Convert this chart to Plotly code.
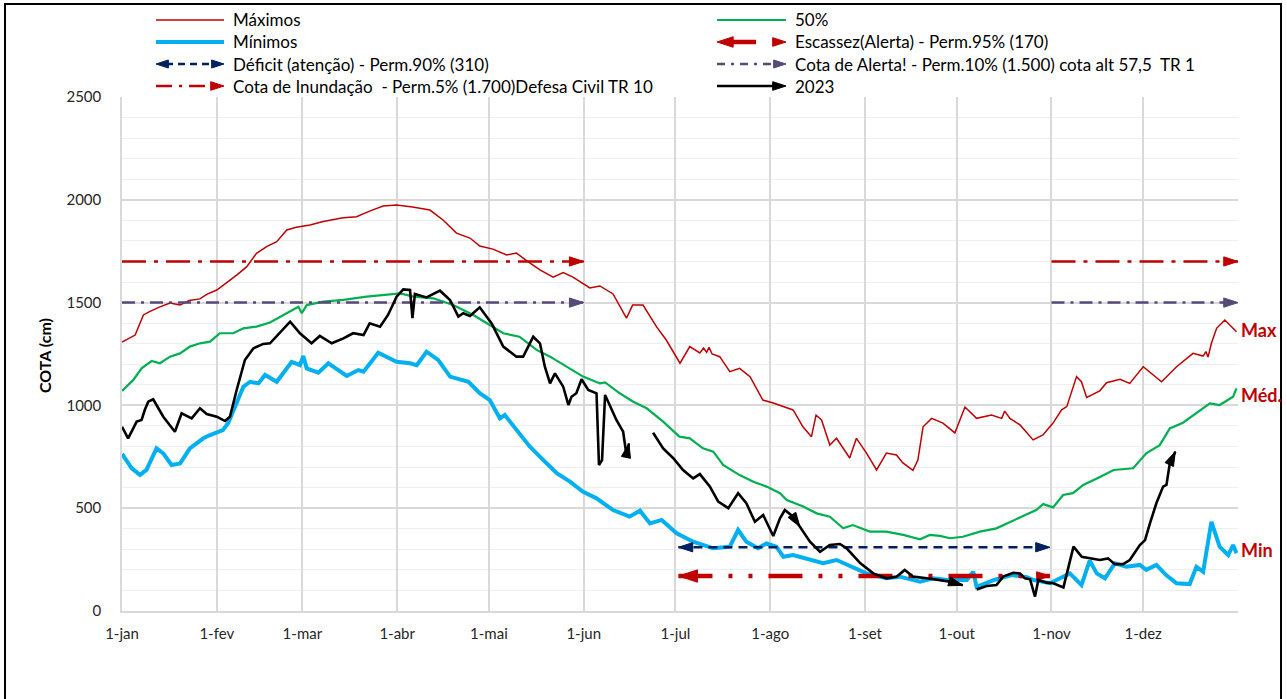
import plotly.graph_objects as go

# ---------------- data ----------------
MONTH_DAYS = [0, 31, 59, 90, 120, 151, 181, 212, 243, 273, 304, 334, 365]
MONTH_LABELS = ["1-jan", "1-fev", "1-mar", "1-abr", "1-mai", "1-jun", "1-jul",
                "1-ago", "1-set", "1-out", "1-nov", "1-dez", ""]

MAX_DAY = [0, 4.3, 7, 9, 12.4, 15.7, 19, 22, 25.5, 27.7, 31, 34, 37.5, 40.8, 44, 47.3, 50.6, 53.9, 57,
           61.5, 65.8, 72.3, 76.7, 81, 85.4, 89.8, 95, 100.7, 105, 109.4, 113.8, 117, 121.3, 125.8, 129,
           132.3, 136.7, 141, 144.3, 147.5, 153, 156.3, 160.6, 165, 167, 170.4, 174.8, 178, 182.5, 185.7,
           189, 190.2, 191.2, 192, 193, 195.5, 198.8, 202, 205.4, 209.6, 213, 219.5, 222.7, 225.5, 227,
           228.8, 231.5, 233.7, 238, 240.2, 243.5, 246.8, 250, 253.3, 255.4, 258.7, 260.3, 262, 264.8,
           268.5, 272.4, 275.7, 279.5, 284.4, 287.7, 288.7, 290.4, 293.7, 298, 301.2, 304.5, 307.3, 309,
           312.2, 313.8, 315.5, 319.8, 322, 326.4, 329.6, 334, 340, 344.9, 350.3, 353.6, 354.5, 355.2,
           356.3, 358, 360.7, 364.5]
MAX_VAL = [1308, 1342, 1440, 1456, 1479, 1498, 1488, 1510, 1518, 1540, 1561, 1594, 1634, 1675, 1740, 1772,
           1796, 1853, 1866, 1877, 1894, 1913, 1918, 1945, 1970, 1975, 1965, 1950, 1902, 1838, 1814, 1775,
           1760, 1732, 1741, 1704, 1659, 1624, 1646, 1624, 1571, 1581, 1542, 1424, 1488, 1488, 1383, 1318,
           1205, 1286, 1255, 1279, 1258, 1282, 1250, 1237, 1164, 1180, 1140, 1026, 1012, 978, 896, 848, 953,
           929, 807, 840, 744, 840, 768, 686, 768, 759, 720, 684, 734, 896, 937, 914, 866, 992, 937, 953,
           937, 972, 937, 905, 832, 856, 914, 978, 994, 1140, 1115, 1039, 1071, 1110, 1127, 1107, 1188,
           1115, 1188, 1253, 1240, 1262, 1235, 1302, 1375, 1415, 1358]

MED_DAY = [0, 3.7, 6.4, 9.7, 12.4, 15.7, 19, 22.2, 25.5, 28.8, 32, 36.4, 39.7, 44, 48.4, 52.7, 57.7, 58.8,
           60.4, 65.8, 72.4, 80, 85.5, 91, 95.3, 101.8, 108.3, 114.9, 120.3, 124.7, 130, 135.6, 140, 145.4,
           150.8, 156.3, 158, 162.8, 167.2, 171.6, 177, 182.3, 185.7, 190, 193.4, 196.6, 202, 206.5, 210.8,
           215.2, 217.4, 222.8, 227.2, 231.5, 235.9, 239, 244.6, 250, 255.5, 261, 264.2, 267.5, 270.8, 275,
           280.6, 286, 290.4, 294.7, 299, 301.3, 304.5, 307.8, 311, 314.4, 320, 324.3, 330.7, 335, 339.4,
           342.7, 347, 351.4, 355.8, 359, 363.4, 364.5]
MED_VAL = [1070, 1124, 1180, 1216, 1205, 1237, 1253, 1286, 1302, 1310, 1351, 1351, 1375, 1383, 1403, 1440,
           1480, 1448, 1488, 1505, 1513, 1529, 1537, 1545, 1529, 1521, 1488, 1440, 1391, 1351, 1334, 1270,
           1237, 1188, 1140, 1107, 1112, 1059, 1018, 986, 921, 848, 840, 791, 775, 710, 661, 629, 605, 573,
           540, 508, 475, 459, 402, 418, 386, 386, 370, 349, 370, 365, 354, 361, 386, 402, 434, 462, 491,
           520, 504, 564, 573, 613, 653, 686, 694, 767, 807, 888, 916, 961, 1010, 1002, 1042, 1083]

MIN_DAY = [0, 3.2, 5.9, 8, 11.3, 13.5, 16.2, 19, 22.2, 25, 26.6, 28.8, 33, 34.7, 37.5, 39.7, 41.9, 44.6,
           46.8, 50.6, 55.5, 58.2, 59.3, 60.4, 64.2, 67.5, 73.5, 77.3, 79, 83.8, 89.8, 94.2, 96.4, 99.6,
           103.4, 107.3, 113.3, 117, 120.3, 123.6, 125.2, 129, 133.4, 137.8, 142.2, 146.5, 150.8, 155.2,
           160.6, 166, 169.4, 172.7, 176.5, 181.4, 186.8, 193.4, 198.8, 201.5, 204.2, 208, 210.8, 214,
           216.3, 219.5, 225, 229.3, 233.7, 239, 243.5, 250, 254.4, 261, 265.3, 270, 276.3, 278.4, 279.5,
           285, 291, 296, 298, 303.5, 310, 313.8, 316.5, 318.8, 321.5, 324.7, 328.5, 332.9, 335, 338.3,
           341.5, 344.9, 349.2, 351.4, 353.6, 356.3, 359, 361.8, 363.4, 364.5]
MIN_VAL = [764, 694, 662, 686, 791, 767, 710, 718, 791, 823, 840, 856, 880, 913, 1010, 1091, 1115, 1107,
           1148, 1115, 1212, 1196, 1240, 1180, 1159, 1205, 1143, 1172, 1164, 1256, 1212, 1205, 1196, 1261,
           1221, 1140, 1115, 1059, 1026, 937, 953, 880, 799, 734, 670, 629, 580, 548, 491, 459, 488, 426,
           443, 378, 337, 305, 313, 394, 337, 305, 329, 313, 264, 272, 248, 232, 248, 215, 183, 159, 167,
           143, 159, 151, 151, 191, 118, 150, 175, 165, 151, 135, 183, 126, 245, 183, 159, 232, 215, 224,
           200, 224, 175, 135, 131, 215, 191, 434, 313, 272, 321, 281]

# 2023 series (None = gap in the record)
Y2023_DAY = [0, 2, 4.8, 6.4, 7.5, 8.6, 10.2, 13.5, 17.3, 19.5, 22.8, 25.5, 27.7, 31, 33.7, 35.3, 37.5, 40.2,
             43, 46.2, 48.4, 51.7, 55, 58.2, 62, 64.7, 68.6, 72.4, 75.6, 79, 81, 84.4, 87, 89.8, 92, 94.2,
             95, 95.8, 99.6, 104, 107.3, 110, 111.6, 113.8, 117, 120.9, 124.7, 129, 131.2, 134.5, 136.7,
             138.3, 140, 141.6, 144.3, 146, 147, 148.6, 150.3, 152.5, 155.2, 156, 157, 158, 161.7, 163.9,
             165, 165.8, 169,
             173.7, 177, 180.3, 183.5, 186.8, 189, 192.3, 195, 198.3, 201.5, 204.2, 207, 209.7, 213, 215.2,
             216.8, 219.5, 221.7, 225, 228.3, 231.5, 234.8, 237, 241.5, 245.7, 250, 253.3, 256, 258.8,
             263.2, 267.5, 270.8, 275, 277,
             279.5, 282.8, 286, 288.2, 291.5, 293.7, 295.3, 297, 298.6, 299.7, 302.4, 304.6, 307.9, 309.5,
             311.2, 313.9, 316.5, 319.8, 322.5, 324.7, 327.4, 329.6, 332.9, 334.6, 336.2, 338.3, 340.5,
             341.6, 342.7, 344.5]
Y2023_VAL = [896, 840, 921, 929, 980, 1018, 1030, 945, 872, 961, 937, 986, 958, 945, 924, 945, 1075, 1221,
             1278, 1299, 1302, 1354, 1407, 1351, 1302, 1338, 1302, 1326, 1351, 1342, 1399, 1383, 1440, 1529,
             1564, 1561, 1424, 1542, 1525, 1558, 1513, 1432, 1448, 1435, 1477, 1399, 1286, 1237, 1237, 1334,
             1302, 1188, 1107, 1156, 1091, 1002, 1042, 1059, 1127, 1075, 1059, 710, 734, 1051, 929, 872,
             759, 815, None,
             867, 791, 743, 686, 645, 666, 605, 532, 500, 573, 524, 434, 467, 365, 451, 491, 459, 410, 337,
             288, 321, 326, 305, 232, 183, 159, 167, 200, 167, 159, 151, 143, 125, None,
             105, 122, 126, 167, 186, 183, 159, 154, 70, 151, 138, 135, 115, 215, 313, 264, 256, 248, 256,
             228, 228, 248, 321, 345, 426, 524, 605, 613, 718, 775]
ARROW_DAYS_2023 = [165.8, 221.7, 275, 344.5]

# reference levels (cm) and their spans (days)
INUNDACAO = 1700
ALERTA = 1500
DEFICIT = 310
ESCASSEZ = 170
HIGH_SPANS = [(0, 151), (304, 365)]
LOW_SPAN = (182, 303.5)

# ---------------- figure geometry ----------------
W, H = 1287, 699
PL, PR, PT, PB = 122, 1238, 97, 611      # plot-area edges in pixels
XMAX, YMAX = 365, 2500
FONT = "Lato, 'Open Sans', sans-serif"
RED = "#C00000"
GREEN = "#00B050"
CYAN = "#00B0F0"
NAVY = "#002060"
PURPLE = "#584A78"


def fx(x):  # pixel -> paper
    return x / W


def fy(y):
    return (H - y) / H


def arrow_marker(sizes, colors, angles=None, angleref="up"):
    m = dict(symbol="arrow", size=sizes, color=colors, angleref=angleref, opacity=1,
             line=dict(width=1, color=colors))
    if angles is not None:
        m["angle"] = angles
    return m


fig = go.Figure()

fig.add_trace(go.Scatter(x=MAX_DAY, y=MAX_VAL, mode="lines", name="Máximos",
                         line=dict(color=RED, width=1.5)))
fig.add_trace(go.Scatter(x=MED_DAY, y=MED_VAL, mode="lines", name="50%",
                         line=dict(color=GREEN, width=2.2)))
fig.add_trace(go.Scatter(x=MIN_DAY, y=MIN_VAL, mode="lines", name="Mínimos",
                         line=dict(color=CYAN, width=4)))

# high reference levels (dash-dot, arrow at right end)
for lvl, col, dash in [(INUNDACAO, RED, "24px,8px,4px,8px"), (ALERTA, PURPLE, "13px,6px,3px,6px")]:
    for a, b in HIGH_SPANS:
        fig.add_trace(go.Scatter(x=[a, b], y=[lvl, lvl], mode="lines+markers", showlegend=False,
                                 line=dict(color=col, width=2.5, dash=dash),
                                 marker=arrow_marker([0, 15], col, [0, 90]),
                                 cliponaxis=False, hoverinfo="skip"))

# Déficit: navy dashed, arrows both ends
fig.add_trace(go.Scatter(x=list(LOW_SPAN), y=[DEFICIT, DEFICIT], mode="lines+markers", showlegend=False,
                         line=dict(color=NAVY, width=2.5, dash="9px,6px"),
                         marker=arrow_marker([15, 15], NAVY, [-90, 90])))
# Escassez: red thick long-dash-dot-dot, arrows both ends
fig.add_trace(go.Scatter(x=list(LOW_SPAN), y=[ESCASSEZ, ESCASSEZ], mode="lines+markers", showlegend=False,
                         line=dict(color=RED, width=4.5, dash="34px,16px,4px,16px,4px,16px"),
                         marker=arrow_marker([20, 14], RED, [-90, 90])))

# 2023 series with arrowheads at segment ends
sizes = [15 if d in ARROW_DAYS_2023 else 0 for d in Y2023_DAY]
fig.add_trace(go.Scatter(x=Y2023_DAY, y=Y2023_VAL, mode="lines+markers", name="2023",
                         connectgaps=False,
                         line=dict(color="black", width=2.6),
                         marker=arrow_marker(sizes, "black", angleref="previous")))

# ---------------- manual legend on a pixel-space overlay axis ----------------
annotations = []
rows = [20, 42, 64, 86]
c1 = (156, 224, 231)
c2 = (717, 786, 793)
# (x0, x1, y, color, width, dash)
leg_lines = [
    (c1[0], c1[1], rows[0], RED, 1.5, "solid"),
    (c1[0], c1[1], rows[1], CYAN, 4, "solid"),
    (166, 214, rows[2], NAVY, 2.5, "7px,5px"),
    (c1[0], 215, rows[3], RED, 2.5, "16px,7px,3px,7px"),
    (c2[0], c2[1], rows[0], GREEN, 2.2, "solid"),
    (727, 756, rows[1], RED, 4.5, "solid"),
    (c2[0], 778, rows[2], PURPLE, 2.5, "8px,6px,3px,6px"),
    (c2[0], 778, rows[3], "black", 2.5, "solid"),
]
# (x_tip, y, angle, size, color)
leg_arrows = [
    (156, rows[2], -90, 13, NAVY), (224, rows[2], 90, 13, NAVY),
    (224, rows[3], 90, 14, RED),
    (717, rows[1], -90, 17, RED), (786, rows[1], 90, 14, RED),
    (786, rows[2], 90, 13, PURPLE),
    (786, rows[3], 90, 14, "black"),
]
leg_texts = [
    (c1[2], rows[0], "Máximos"), (c1[2], rows[1], "Mínimos"),
    (c1[2], rows[2], "Déficit (atenção) - Perm.90% (310)"),
    (c1[2], rows[3], "Cota de Inundação  - Perm.5% (1.700)Defesa Civil TR 10"),
    (c2[2], rows[0], "50%"), (c2[2], rows[1], "Escassez(Alerta) - Perm.95% (170)"),
    (c2[2], rows[2], "Cota de Alerta! - Perm.10% (1.500) cota alt 57,5  TR 1"),
    (c2[2], rows[3], "2023"),
]

for x0, x1, y, col, wd, dash in leg_lines:
    fig.add_trace(go.Scatter(x=[x0, x1], y=[y, y], xaxis="x2", yaxis="y2", mode="lines",
                             showlegend=False, hoverinfo="skip",
                             line=dict(color=col, width=wd, dash=dash)))
fig.add_trace(go.Scatter(
    x=[a[0] for a in leg_arrows], y=[a[1] for a in leg_arrows], xaxis="x2", yaxis="y2",
    mode="markers", showlegend=False, hoverinfo="skip",
    marker=arrow_marker([a[3] for a in leg_arrows], [a[4] for a in leg_arrows],
                        [a[2] for a in leg_arrows])))

for x, y, txt in leg_texts:
    annotations.append(dict(x=fx(x), y=fy(y), xref="paper", yref="paper", text=txt,
                            showarrow=False, xanchor="left", yanchor="middle",
                            font=dict(family=FONT, size=17, color="#000")))

# right-side labels
for txt, val in [("Max", 1367), ("Méd.", 1051), ("Min", 297)]:
    annotations.append(dict(x=XMAX, y=val, xref="x", yref="y", text=txt, showarrow=False,
                            xanchor="left", yanchor="middle", xshift=1,
                            font=dict(family=FONT, size=18, color=RED, weight="bold")))

# y-axis title
annotations.append(dict(x=fx(45), y=fy(356), xref="paper", yref="paper", text="<b>COTA (cm)</b>",
                        showarrow=False, textangle=-90, xanchor="center", yanchor="middle",
                        font=dict(family=FONT, size=16, color="#000")))

shapes = [dict(type="rect", xref="paper", yref="paper", x0=fx(5), x1=fx(1281), y0=-0.02, y1=fy(4),
               line=dict(color="black", width=2), layer="above")]

fig.update_layout(
    width=W, height=H, autosize=False,
    margin=dict(l=0, r=0, t=0, b=0),
    paper_bgcolor="white", plot_bgcolor="rgba(0,0,0,0)",
    showlegend=False,
    font=dict(family=FONT, size=15, color="#262626"),
    shapes=shapes, annotations=annotations,
    xaxis=dict(domain=[PL / W, PR / W], range=[0, XMAX], tickvals=MONTH_DAYS, ticktext=MONTH_LABELS,
               showgrid=True, gridcolor="#D9D9D9", gridwidth=1.5, zeroline=False,
               showline=True, linecolor="#D9D9D9", linewidth=1.5, automargin=False,
               ticks="", ticklabelstandoff=8, tickfont=dict(family=FONT, size=15, color="#262626")),
    yaxis=dict(domain=[(H - PB) / H, (H - PT) / H], range=[0, YMAX],
               tickvals=[0, 500, 1000, 1500, 2000, 2500],
               showgrid=True, gridcolor="#D9D9D9", gridwidth=1.5, zeroline=False,
               showline=True, linecolor="#D9D9D9", linewidth=1.5, automargin=False,
               minor=dict(dtick=100, showgrid=True, gridcolor="#EFEFEF", gridwidth=1.2),
               ticks="", ticklabelstandoff=16, tickfont=dict(family=FONT, size=15, color="#262626")),
    xaxis2=dict(domain=[0, 1], range=[0, W], visible=False, anchor="y2", fixedrange=True),
    yaxis2=dict(domain=[0, 1], range=[H, 0], visible=False, anchor="x2", fixedrange=True),
)

fig.write_html("out.html", config={"displayModeBar": False},
               post_script="document.body.style.margin='0';")
